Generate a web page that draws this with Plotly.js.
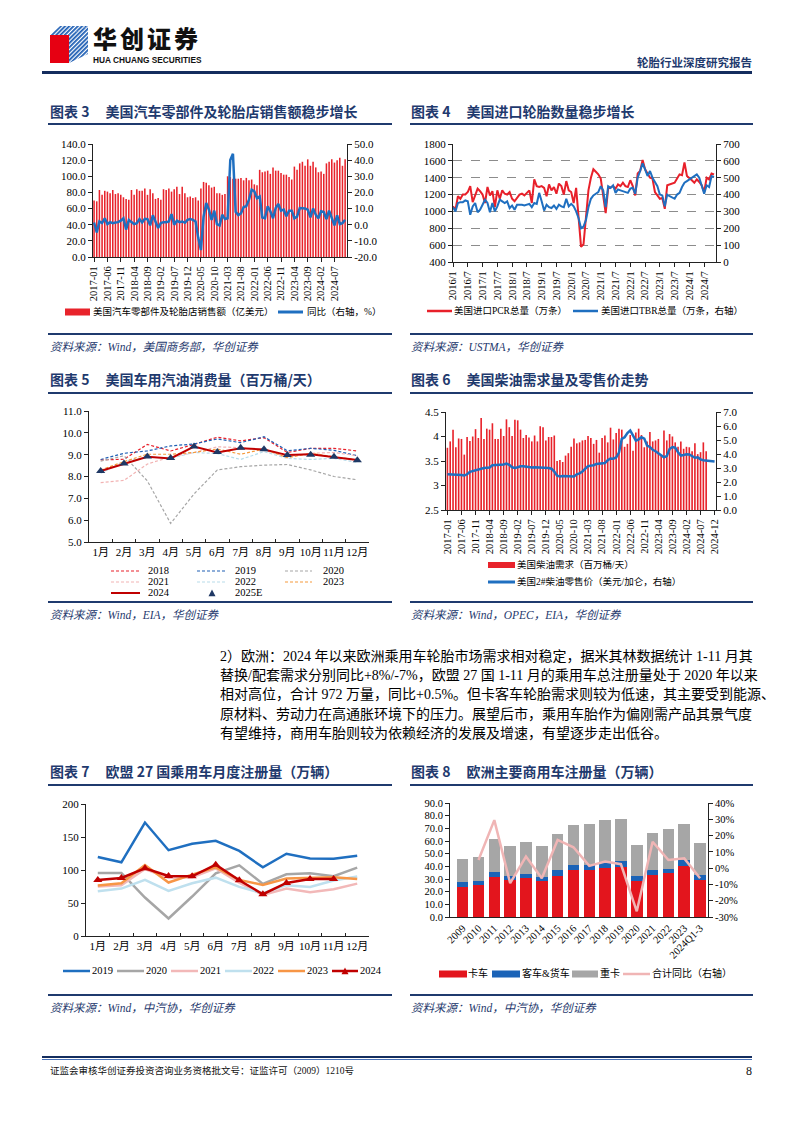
<!DOCTYPE html>
<html><head><meta charset="utf-8">
<script src="https://cdn.plot.ly/plotly-3.0.1.min.js"></script>
<style>
body{margin:0;background:#fff;}
#page{position:relative;width:794px;height:1123px;overflow:hidden;background:#fff;font-family:"Liberation Serif","Noto Sans CJK SC",serif;}
.ttl{position:absolute;font-family:"Noto Sans CJK SC",sans-serif;font-weight:700;font-size:14px;color:#1f3a6e;white-space:nowrap;line-height:16px;}
.ttl b{margin-left:16px;font-weight:700;}
.rule{position:absolute;height:2px;background:#1f3a6e;}
.src{position:absolute;font-style:italic;font-size:11.5px;color:#1f3a6e;white-space:nowrap;line-height:14px;font-family:"Liberation Serif","Noto Sans CJK SC",serif;}
.lgt{position:absolute;font-size:9.5px;white-space:nowrap;line-height:12px;color:#000;font-family:"Liberation Serif","Noto Sans CJK SC",serif;}
.plt{position:absolute;}
.para{position:absolute;left:220px;width:532px;font-size:14px;line-height:18px;white-space:nowrap;color:#000;text-align:justify;text-align-last:justify;font-family:"Liberation Serif","Noto Sans CJK SC",serif;}
svg.sw{position:absolute;overflow:visible;}
</style></head>
<body><div id="page">

<!-- header -->
<svg style="position:absolute;left:49px;top:24px" width="42" height="42">
 <defs><pattern id="st" width="3" height="3" patternUnits="userSpaceOnUse" patternTransform="rotate(45)"><rect width="3" height="3" fill="#fff"/><rect width="1.8" height="3" fill="#1f5fb4"/></pattern></defs>
 <polygon points="1,11 20,11 20,39 1,39" fill="#e60012"/>
 <polygon points="1,11 11,2 39,2 20,11" fill="url(#st)"/>
 <polygon points="20,11 39,2 39,30 20,39" fill="url(#st)"/>
</svg>
<div style="position:absolute;left:93px;top:20px;font-family:'Noto Sans CJK SC';font-weight:900;font-size:24px;line-height:normal;letter-spacing:3px;color:#111;white-space:nowrap;">华创证券</div>
<div style="position:absolute;left:93px;top:56px;font-family:'Liberation Sans',sans-serif;font-weight:700;font-size:8.3px;line-height:9px;color:#111;white-space:nowrap;">HUA CHUANG SECURITIES</div>
<div style="position:absolute;right:42px;top:55px;font-family:'Noto Sans CJK SC';font-weight:700;font-size:11.5px;line-height:14px;color:#1f3a6e;">轮胎行业深度研究报告</div>
<div style="position:absolute;left:42px;width:710px;top:71px;height:3px;background:#142d5e;"></div>

<!-- titles / rules / sources -->
<div class="ttl" style="left:50px;top:103px;">图表 3<b>美国汽车零部件及轮胎店销售额稳步增长</b></div>
<div class="ttl" style="left:411px;top:103px;">图表 4<b>美国进口轮胎数量稳步增长</b></div>
<div class="rule" style="left:48px;width:344px;top:123px;"></div>
<div class="rule" style="left:410px;width:343px;top:123px;"></div>
<div class="rule" style="left:48px;width:344px;top:333px;"></div>
<div class="rule" style="left:410px;width:343px;top:333px;"></div>
<div class="src" style="left:50px;top:340px;">资料来源：Wind，美国商务部，华创证券</div>
<div class="src" style="left:411px;top:340px;">资料来源：USTMA，华创证券</div>

<div class="ttl" style="left:50px;top:371px;">图表 5<b>美国车用汽油消费量（百万桶/天）</b></div>
<div class="ttl" style="left:411px;top:371px;">图表 6<b>美国柴油需求量及零售价走势</b></div>
<div class="rule" style="left:48px;width:344px;top:392px;"></div>
<div class="rule" style="left:410px;width:343px;top:392px;"></div>
<div class="rule" style="left:48px;width:344px;top:601px;"></div>
<div class="rule" style="left:410px;width:343px;top:601px;"></div>
<div class="src" style="left:50px;top:608px;">资料来源：Wind，EIA，华创证券</div>
<div class="src" style="left:411px;top:608px;">资料来源：Wind，OPEC，EIA，华创证券</div>

<div class="para" style="top:648px;">2）欧洲：2024 年以来欧洲乘用车轮胎市场需求相对稳定，据米其林数据统计 1-11 月其</div>
<div class="para" style="top:667px;">替换/配套需求分别同比+8%/-7%，欧盟 27 国 1-11 月的乘用车总注册量处于 2020 年以来</div>
<div class="para" style="top:686px;">相对高位，合计 972 万量，同比+0.5%。但卡客车轮胎需求则较为低速，其主要受到能源、</div>
<div class="para" style="top:706px;">原材料、劳动力在高通胀环境下的压力。展望后市，乘用车胎作为偏刚需产品其景气度</div>
<div class="para" style="top:725px;text-align-last:left;">有望维持，商用车胎则较为依赖经济的发展及增速，有望逐步走出低谷。</div>

<div class="ttl" style="left:50px;top:763px;">图表 7<b>欧盟 27 国乘用车月度注册量（万辆）</b></div>
<div class="ttl" style="left:411px;top:763px;">图表 8<b>欧洲主要商用车注册量（万辆）</b></div>
<div class="rule" style="left:48px;width:344px;top:784px;"></div>
<div class="rule" style="left:410px;width:343px;top:784px;"></div>
<div class="rule" style="left:48px;width:344px;top:994px;"></div>
<div class="rule" style="left:410px;width:343px;top:994px;"></div>
<div class="src" style="left:50px;top:1001px;">资料来源：Wind，中汽协，华创证券</div>
<div class="src" style="left:411px;top:1001px;">资料来源：Wind，中汽协，华创证券</div>

<!-- footer -->
<div style="position:absolute;left:42px;width:710px;top:1056px;height:2px;background:#142d5e;"></div>
<div style="position:absolute;left:42px;width:710px;top:1059px;height:1px;background:#4a72b8;"></div>
<div style="position:absolute;left:50px;top:1065px;font-size:9.5px;line-height:12px;font-family:'Liberation Serif','Noto Sans CJK SC';color:#111;white-space:nowrap;">证监会审核华创证券投资咨询业务资格批文号：证监许可（2009）1210号</div>
<div style="position:absolute;right:42px;top:1064px;font-size:12px;line-height:14px;font-family:'Liberation Serif';color:#111;">8</div>

<div id="c3" class="plt"></div>
<div id="c4" class="plt"></div>
<div id="c5" class="plt"></div>
<div id="c6" class="plt"></div>
<div id="c7" class="plt"></div>
<div id="c8" class="plt"></div>
</div>

<script>
// ---------------- DATA ----------------
// Chart 3: US auto parts & tire store sales (亿美元), YoY (%)  2017-01 .. 2024-11
const c3Sales = [70,69,83,77,82,81,79,83,78,79,77,74,
  72,71,83,77,84,82,82,85,77,84,79,72,
  73,71,84,83,85,81,84,87,78,87,79,74,
  75,73,74,70,85,93,92,89,86,87,79,79,
  77,78,100,99,97,97,97,98,95,98,95,96,
  90,89,108,105,106,107,103,111,107,107,104,102,
  102,99,96,112,108,116,118,113,121,113,118,111,
  105,106,103,116,118,121,117,120,123,113,121];
const c3Yoy = [1.4,-4.8,2,1,4,0.4,1.6,1,1.4,1.6,2.5,4,
  -3,3,1.6,0.4,1,3.5,1.4,3.7,3.5,-0.4,5.8,2,
  -2,1,1.6,1.6,2,6.6,0,2.5,1.6,2,1.2,3,
  3.5,3,2,-8,-15.7,5,13.4,9.3,3,8.7,0.4,-0.4,
  6.2,3.5,4,40,44,8,6,7,11,11.4,15.5,21.7,
  20.7,16.5,17.5,4.5,4,11.4,8.3,4,10.3,12.8,8.7,9.3,
  5.2,8.7,8.7,4,5,10.3,10.3,10,9.3,4.5,10,6.2,
  4,8.3,7.9,3.5,8.7,4,-0.4,5.8,0.4,1,3];
const c3Ticks = ['2017-01','2017-06','2017-11','2018-04','2018-09','2019-02','2019-07','2019-12','2020-05','2020-10','2021-03','2021-08','2022-01','2022-06','2022-11','2023-04','2023-09','2024-02','2024-07'];
const c3Names = ['美国汽车零部件及轮胎店销售额（亿美元）','同比（右轴，%）'];
const c3RightVals = [-20,-10,0,10,20,30,40,50];
const c3RightText = ['-20.0','-10.0','0.0','10.0','20.0','30.0','40.0','50.0'];

// Chart 4: US imported PCR (万条, left) and TBR (万条, right) 2016/1 .. 2024/11
const c4PCR = [1060,1020,1180,1150,1200,1200,1230,1300,1110,1180,1270,1240,
  1200,1100,1290,1190,1240,1050,1250,1150,1250,1210,1200,1230,
  1150,1120,1160,1200,1210,1190,1220,1250,1100,1380,1300,1290,
  1300,1280,1180,1320,1250,1290,1210,1330,1300,1200,1360,1250,
  1230,1100,1280,900,580,610,900,1250,1400,1500,1470,1440,
  1390,1210,980,1270,1290,1300,1270,1320,1300,1340,1300,1290,
  1370,1300,1190,1450,1480,1610,1500,1450,1400,1390,1230,1190,
  1150,1160,1030,1310,1320,1330,1340,1390,1440,1430,1580,1420,
  1400,1370,1340,1380,1350,1310,1230,1400,1380,1450,1440];
const c4TBR = [325,300,350,355,355,365,360,280,330,350,295,310,
  340,370,350,295,350,300,330,370,360,350,360,320,
  335,310,340,340,340,335,340,345,325,350,345,410,
  360,305,340,325,320,335,315,340,330,325,375,330,
  345,330,300,260,200,210,250,325,375,395,405,415,
  450,425,325,450,440,455,410,430,425,420,415,410,
  435,440,405,500,540,585,550,510,540,500,475,450,
  400,395,330,400,390,380,375,400,410,445,470,480,
  490,495,510,520,500,450,405,455,445,510,505];
const c4Ticks = ['2016/1','2016/7','2017/1','2017/7','2018/1','2018/7','2019/1','2019/7','2020/1','2020/7','2021/1','2021/7','2022/1','2022/7','2023/1','2023/7','2024/1','2024/7'];
const c4Names = ['美国进口PCR总量（万条）','美国进口TBR总量（万条，右轴）'];

// Chart 5: US motor gasoline consumption (百万桶/天)
const c5Months = ['1月','2月','3月','4月','5月','6月','7月','8月','9月','10月','11月','12月'];
const c5Years = ['2018','2019','2020','2021','2022','2023','2024','2025E'];
const c5Data = {
  '2018':[8.76,8.79,9.47,9.17,9.47,9.80,9.63,9.78,9.10,9.29,9.29,9.17],
  '2019':[8.78,9.06,9.17,9.40,9.49,9.72,9.55,9.82,9.18,9.29,9.20,8.95],
  '2020':[8.70,8.95,7.80,5.85,7.20,8.30,8.45,8.52,8.55,8.30,8.00,7.85],
  '2021':[7.72,7.82,8.57,8.90,9.10,9.36,9.32,9.20,8.90,9.06,9.10,8.95],
  '2022':[8.15,8.68,8.90,8.83,9.10,9.05,8.78,9.14,8.83,8.78,8.83,8.65],
  '2023':[8.30,8.68,9.02,9.02,9.10,9.26,9.02,9.26,8.86,9.06,8.90,8.76],
  '2024':[8.25,8.57,8.90,8.83,9.37,9.10,9.29,9.24,8.98,9.02,8.90,8.76],
  '2025E':[8.25,8.60,8.92,8.85,9.37,9.12,9.32,9.25,8.98,9.00,8.90,8.75]
};

// Chart 6: US diesel demand (百万桶/天) 2017-01..2024-09, No.2 diesel retail price (美元/加仑) 2017-01..2024-12
const c6Demand = [3.77,3.90,4.14,3.78,3.96,3.95,3.63,3.99,3.91,4.00,4.15,3.97,
  4.38,3.95,4.16,4.14,4.27,3.95,3.95,4.16,4.01,4.35,4.19,4.01,
  4.34,4.33,4.14,3.97,4.03,3.98,3.90,4.02,3.90,4.21,4.19,3.92,
  3.99,3.99,4.02,3.50,3.52,3.48,3.61,3.66,3.79,3.96,3.86,3.88,
  3.92,3.93,4.01,3.97,3.85,3.93,3.67,3.97,4.02,3.88,4.18,3.94,
  4.07,4.16,4.14,3.79,3.85,4.03,3.71,4.08,4.16,4.03,3.78,3.90,
  4.09,3.90,3.92,3.95,3.61,4.12,3.92,4.05,4.00,3.88,3.79,3.90,
  3.75,3.79,3.78,3.70,3.86,3.64,3.68,3.88,3.70];
const c6Price = [2.55,2.55,2.55,2.55,2.53,2.50,2.46,2.55,2.72,2.78,2.86,2.90,
  2.94,3.00,3.02,3.03,3.20,3.22,3.20,3.22,3.25,3.32,3.22,3.05,
  3.00,3.05,3.12,3.13,3.08,3.03,3.03,3.05,3.05,3.05,3.05,3.05,
  3.00,2.95,2.75,2.45,2.40,2.42,2.42,2.42,2.40,2.40,2.55,2.62,
  2.75,2.95,3.13,3.17,3.20,3.29,3.32,3.36,3.35,3.55,3.68,3.66,
  3.75,4.10,5.08,5.20,5.50,5.68,5.32,4.96,5.05,5.20,5.10,4.60,
  4.50,4.30,4.20,4.05,3.95,3.77,3.85,4.35,4.50,4.45,4.13,3.89,
  3.93,3.98,3.97,3.85,3.73,3.76,3.62,3.55,3.53,3.52,3.50,3.47];
const c6Ticks = ['2017-01','2017-06','2017-11','2018-04','2018-09','2019-02','2019-07','2019-12','2020-05','2020-10','2021-03','2021-08','2022-01','2022-06','2022-11','2023-04','2023-09','2024-02','2024-07','2024-12'];
const c6Names = ['美国柴油需求（百万桶/天）','美国2#柴油零售价（美元/加仑，右轴）'];

// Chart 7: EU27 passenger car monthly registrations (万辆)
const c7Years = ['2019','2020','2021','2022','2023','2024'];
const c7Data = {
  '2019':[119.6,111.6,171.9,130,139.7,144.2,129,104,124.6,117.6,117,121.6],
  '2020':[95.5,95.5,58.3,26.6,59.8,95,107,79,93.5,95,90.5,103.5],
  '2021':[75,77,101.5,88.4,89,102.5,81,62.3,71.9,66.3,70.9,79.4],
  '2022':[67.8,71.9,85,68.3,79.9,88.4,74.4,64.8,77,74.4,84,90],
  '2023':[76.4,80,107.5,81,93,104,85,77.4,87,88.4,89,86.4],
  '2024':[85,88,102.5,91,90.5,108,84.4,63.3,80.4,86.4,86.4,null]
};

// Chart 8: European commercial vehicle registrations (万辆), total YoY (%)
const c8Years = ['2009','2010','2011','2012','2013','2014','2015','2016','2017','2018','2019','2020','2021','2022','2023','2024Q1-3'];
const c8Truck = [23.8,24.9,31.7,29.1,30.6,28.5,32.7,37.2,37.2,39.0,39.3,28.8,33.2,35.0,40.6,29.3];
const c8BusVan = [3.9,3.6,3.6,3.6,3.4,3.4,4.2,3.9,3.9,3.9,4.9,3.7,4.0,3.2,4.4,3.7];
const c8Heavy = [18.1,19.1,26.0,23.1,25.4,23.9,28.3,31.4,32.2,33.3,33.5,24.6,29.0,31.2,28.6,25.1];
const c8Yoy = [null,5.0,29.5,-9.2,7.1,-6.2,17.3,12.8,1.4,4.0,2.4,-26.5,16.2,5.0,6.0,-6.2];
const c8Names = ['卡车','客车&货车','重卡','合计同比（右轴）'];
const c8RightVals = [-30,-20,-10,0,10,20,30,40];
const c8RightText = ['-30%','-20%','-10%','0%','10%','20%','30%','40%'];

// ---------------- helpers ----------------
const FONT = '"Liberation Serif","Noto Sans CJK SC",serif';
function monthLabels(y, m, n, sep, pad){
  const out=[];
  for(let k=0;k<n;k++){const t=m-1+k; const yy=y+Math.floor(t/12); const mo=t%12+1; out.push(yy+sep+(pad&&mo<10?'0'+mo:String(mo)));}
  return out;
}
function place(id, box, pad){
  const el=document.getElementById(id);
  const w=box[2]-box[0]+pad[0]+pad[2], h=box[3]-box[1]+pad[1]+pad[3];
  el.style.left=(box[0]-pad[0])+'px'; el.style.top=(box[1]-pad[1])+'px';
  el.style.width=w+'px'; el.style.height=h+'px';
  return {width:w,height:h,autosize:false,margin:{l:pad[0],t:pad[1],r:pad[2],b:pad[3],pad:0},
    paper_bgcolor:'rgba(0,0,0,0)',plot_bgcolor:'rgba(0,0,0,0)',showlegend:false,
    font:{family:FONT,size:11,color:'#000'}};
}
function ax(extra){
  return Object.assign({showgrid:false,zeroline:false,showline:true,linecolor:'#222',linewidth:1,
    ticks:'outside',ticklen:4,tickcolor:'#222',tickwidth:1,fixedrange:true,
    tickfont:{family:FONT,size:11,color:'#000'}},extra);
}
const cfg={staticPlot:true,displayModeBar:false};
const page=document.getElementById('page');
function swatch(kind,color,x0,x1,yc,o){
  o=o||{};
  const w=x1-x0;
  let s='';
  if(kind==='rect') s+=`<rect x="0" y="${6-(o.h||6)/2}" width="${w}" height="${o.h||6}" fill="${color}"/>`;
  if(kind==='line'||kind==='linetri') s+=`<line x1="0" y1="6" x2="${w}" y2="6" stroke="${color}" stroke-width="${o.lw||2}" ${o.dash?'stroke-dasharray="'+o.dash+'"':''}/>`;
  if(kind==='tri'||kind==='linetri') s+=`<polygon points="${w/2-3.5},9.2 ${w/2+3.5},9.2 ${w/2},2.6" fill="${o.tc||color}"/>`;
  const el=document.createElementNS('http://www.w3.org/2000/svg','svg');
  el.setAttribute('class','sw'); el.setAttribute('width',w); el.setAttribute('height',12);
  el.style.left=x0+'px'; el.style.top=(yc-6)+'px';
  el.innerHTML=s; page.appendChild(el);
}
function ltext(s,x,yc,size){
  const d=document.createElement('div'); d.className='lgt'; d.textContent=s;
  d.style.left=x+'px'; d.style.top=(yc-6)+'px'; if(size) d.style.fontSize=size+'px';
  page.appendChild(d);
}

// ---------------- Chart 3 ----------------
(function(){
  const months=monthLabels(2017,1,c3Sales.length,'-',true);
  const L=place('c3',[93,144,347,257],[44,8,45,48]);
  Object.assign(L,{
    bargap:0.42,
    xaxis:ax({type:'category',range:[-0.4,94.7],tickmode:'array',tickvals:c3Ticks,ticktext:c3Ticks,tickangle:-90,tickfont:{family:FONT,size:10.5}}),
    yaxis:ax({range:[0,140],dtick:20,tickformat:'.1f'}),
    yaxis2:ax({overlaying:'y',side:'right',range:[-20,50],tickmode:'array',tickvals:c3RightVals,ticktext:c3RightText})
  });
  Plotly.newPlot('c3',[
    {type:'bar',x:months,y:c3Sales,name:c3Names[0],marker:{color:'#e8232b',line:{width:0}}},
    {type:'scatter',mode:'lines',x:months,y:c3Yoy,name:c3Names[1],yaxis:'y2',line:{color:'#1f6fc0',width:2.5}}
  ],L,cfg);
  swatch('rect','#e8232b',65,90,312,{h:7}); ltext(c3Names[0],93,312);
  swatch('line','#1f6fc0',278,303,312,{lw:3}); ltext(c3Names[1],307,312);
})();

// ---------------- Chart 4 ----------------
(function(){
  const months=monthLabels(2016,1,c4PCR.length,'/',false);
  const L=place('c4',[453,144,716,262],[40,8,37,45]);
  Object.assign(L,{
    xaxis:ax({type:'category',range:[0,106.8],tickmode:'array',tickvals:c4Ticks,ticktext:c4Ticks,tickangle:-90,tickfont:{family:FONT,size:10.5}}),
    yaxis:ax({range:[400,1800],dtick:200,showgrid:true,gridcolor:'#8c8c8c',griddash:'dash',gridwidth:1}),
    yaxis2:ax({overlaying:'y',side:'right',range:[0,700],dtick:100})
  });
  Plotly.newPlot('c4',[
    {type:'scatter',mode:'lines',x:months,y:c4PCR,name:c4Names[0],line:{color:'#e8202a',width:2}},
    {type:'scatter',mode:'lines',x:months,y:c4TBR,name:c4Names[1],yaxis:'y2',line:{color:'#1f6fc0',width:2}}
  ],L,cfg);
  swatch('line','#e8202a',427,452,311,{lw:2.5}); ltext(c4Names[0],454,311);
  swatch('line','#1f6fc0',573,598,311,{lw:2.5}); ltext(c4Names[1],601,311);
})();

// ---------------- Chart 5 ----------------
const c5Style = {
  '2018':{color:'#e8202a',dash:'3px,2px',w:1.2},
  '2019':{color:'#1f5fb4',dash:'3px,2px',w:1.2},
  '2020':{color:'#a6a6a6',dash:'3px,2px',w:1.2},
  '2021':{color:'#f2b3b3',dash:'3px,2px',w:1.2},
  '2022':{color:'#b7dcea',dash:'3px,2px',w:1.2},
  '2023':{color:'#f59a3c',dash:'3px,2px',w:1.2},
  '2024':{color:'#c00000',dash:'solid',w:2}
};
(function(){
  const L=place('c5',[89,411,369,542],[40,8,20,25]);
  Object.assign(L,{
    xaxis:ax({type:'category',range:[-0.5,11.5],tickson:'boundaries',ticks:'inside',ticklen:3,tickangle:0,tickfont:{family:FONT,size:11}}),
    yaxis:ax({range:[5,11],dtick:1,tickformat:'.1f'})
  });
  const tr=[];
  c5Years.forEach(y=>{
    if(y==='2025E'){
      tr.push({type:'scatter',mode:'markers',x:c5Months,y:c5Data[y],name:y,marker:{symbol:'triangle-up',size:8,color:'#1f3864'}});
    } else {
      const s=c5Style[y];
      tr.push({type:'scatter',mode:'lines',x:c5Months,y:c5Data[y],name:y,line:{color:s.color,dash:s.dash,width:s.w}});
    }
  });
  Plotly.newPlot('c5',tr,L,cfg);
  const cols=[[111,140,148],[197,227,235],[285,312,323]];
  const rows=[571,582,593];
  c5Years.forEach((y,k)=>{
    const r=rows[Math.floor(k/3)], c=cols[k%3];
    if(y==='2025E'){ swatch('tri','#1f3864',c[0],c[1],r); ltext(y,c[2],r,10.5); }
    else { const s=c5Style[y]; swatch('line',s.color,c[0],c[1],r,{lw:s.w,dash:s.dash==='solid'?null:'3,2'}); ltext(y,c[2],r,10.5); }
  });
})();

// ---------------- Chart 6 ----------------
(function(){
  const months=monthLabels(2017,1,c6Price.length,'-',true);
  const L=place('c6',[446,412,716,510],[40,8,37,45]);
  Object.assign(L,{
    bargap:0.42,
    xaxis:ax({type:'category',range:[-0.5,95.5],tickmode:'array',tickvals:c6Ticks,ticktext:c6Ticks,tickangle:-90,tickfont:{family:FONT,size:10.5}}),
    yaxis:ax({range:[2.5,4.5],dtick:0.5}),
    yaxis2:ax({overlaying:'y',side:'right',range:[0,7],dtick:1,tickformat:'.1f'})
  });
  Plotly.newPlot('c6',[
    {type:'bar',x:months.slice(0,c6Demand.length),y:c6Demand,name:c6Names[0],marker:{color:'#e8232b'}},
    {type:'scatter',mode:'lines',x:months,y:c6Price,name:c6Names[1],yaxis:'y2',line:{color:'#1f6fc0',width:2.5}}
  ],L,cfg);
  swatch('rect','#e8232b',488,515,565,{h:6}); ltext(c6Names[0],517,565);
  swatch('line','#1f6fc0',488,515,582,{lw:3}); ltext(c6Names[1],517,582);
})();

// ---------------- Chart 7 ----------------
const c7Style = {'2019':'#1f6fc0','2020':'#a6a6a6','2021':'#f2b8b8','2022':'#bfe0ee','2023':'#f79646','2024':'#c00000'};
(function(){
  const L=place('c7',[86,804,369,936],[40,8,20,25]);
  Object.assign(L,{
    xaxis:ax({type:'category',range:[-0.5,11.5],tickson:'boundaries',ticks:'inside',ticklen:3,tickangle:0,tickfont:{family:FONT,size:11}}),
    yaxis:ax({range:[0,200],dtick:50})
  });
  const tr=c7Years.map(y=>({type:'scatter',mode:y==='2024'?'lines+markers':'lines',x:c5Months,y:c7Data[y],name:y,
    line:{color:c7Style[y],width:2.5},marker:{symbol:'triangle-up',size:8,color:c7Style[y]}}));
  Plotly.newPlot('c7',tr,L,cfg);
  const pos=[[63,90,92],[117,144,146],[171,198,200],[225,252,253],[278,305,307],[332,358,360]];
  c7Years.forEach((y,k)=>{
    const p=pos[k];
    swatch(y==='2024'?'linetri':'line',c7Style[y],p[0],p[1],971,{lw:2.5});
    ltext(y,p[2],971,10.5);
  });
})();

// ---------------- Chart 8 ----------------
(function(){
  const L=place('c8',[450,803,708,917],[45,8,45,48]);
  Object.assign(L,{
    barmode:'stack',bargap:0.27,
    xaxis:ax({type:'category',range:[-0.8,15.5],tickangle:-45,ticks:'',tickfont:{family:FONT,size:10.5}}),
    yaxis:ax({range:[0,90],dtick:10,tickformat:'.1f',tickfont:{family:FONT,size:10.5}}),
    yaxis2:ax({overlaying:'y',side:'right',range:[-30,40],tickmode:'array',tickvals:c8RightVals,ticktext:c8RightText,tickfont:{family:FONT,size:10.5}})
  });
  Plotly.newPlot('c8',[
    {type:'bar',x:c8Years,y:c8Truck,name:c8Names[0],marker:{color:'#e3151d'}},
    {type:'bar',x:c8Years,y:c8BusVan,name:c8Names[1],marker:{color:'#1b63b7'}},
    {type:'bar',x:c8Years,y:c8Heavy,name:c8Names[2],marker:{color:'#a6a6a6'}},
    {type:'scatter',mode:'lines',x:c8Years,y:c8Yoy,name:c8Names[3],yaxis:'y2',line:{color:'#f0b5b5',width:2.5}}
  ],L,cfg);
  swatch('rect','#e3151d',439,467,974,{h:7}); ltext(c8Names[0],468,974,10);
  swatch('rect','#1b63b7',492,520,974,{h:7}); ltext(c8Names[1],522,974,10);
  swatch('rect','#a6a6a6',572,598,974,{h:7}); ltext(c8Names[2],600,974,10);
  swatch('line','#f0b5b5',623,650,974,{lw:2.5}); ltext(c8Names[3],652,974,10);
})();
</script>
</body></html>
